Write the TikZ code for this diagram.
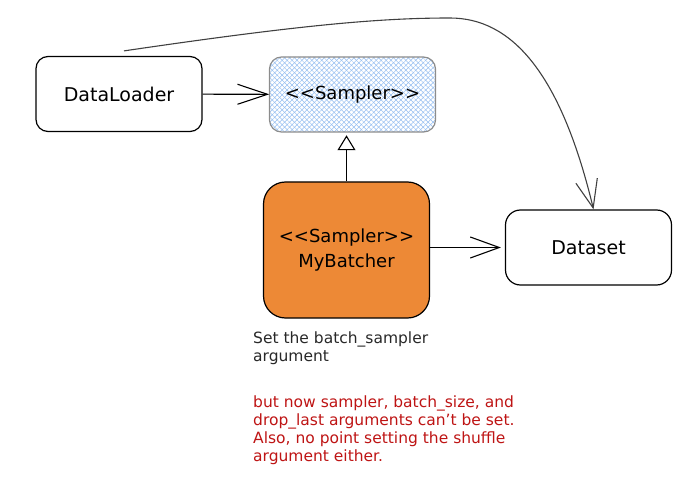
\documentclass[tikz,border=0pt]{standalone}
\usepackage{fontspec}
\setmainfont{DejaVu Sans}
\usetikzlibrary{calc}
\usetikzlibrary{positioning}
\usetikzlibrary{arrows.meta}
\usetikzlibrary{patterns.meta}
\definecolor{batcherOrange}{RGB}{237,137,54}
\definecolor{hatchBlue}{RGB}{150,190,240}
\definecolor{noteRed}{RGB}{190,20,20}
\definecolor{noteGray}{RGB}{40,40,40}
\newcommand{\edgeColor}{black}
\newcommand{\curveColor}{black!75}
\tikzset{box/.style = {draw=\edgeColor, line width=1.2pt, rounded corners=12pt, minimum width=166pt, minimum height=75pt, align=center, font=\fontsize{19}{25}\selectfont}}
\tikzset{hatch/.style = {draw=black!45, preaction={pattern={Lines[angle=45,distance=3.5pt,line width=0.5pt]}, pattern color=hatchBlue}, pattern={Lines[angle=-45,distance=3.5pt,line width=0.5pt]}, pattern color=hatchBlue}}
\tikzset{link/.style = {\edgeColor, line width=1.1pt}}
\tikzset{note/.style = {anchor=north west, align=left, inner sep=0pt, font=\fontsize{15.5}{17.8}\selectfont}}

\begin{document}
\begin{tikzpicture}[x=1pt, y=-1pt]
    \useasboundingbox (0,0) rectangle (700,486);

    \node[box] (loader) at (119,94) {DataLoader};
    \node[box, hatch, font=\fontsize{18}{25}\selectfont] (sampler) at (352.5,94.5) {<{}<Sampler>{}>};
    \node[box, fill=batcherOrange, minimum height=136pt, rounded corners=22pt, font=\fontsize{18}{25}\selectfont] (batcher) at (346.5,250) {<{}<Sampler>{}>\\MyBatcher};
    \node[box, rounded corners=15pt] (dataset) at (588.5,247.5) {Dataset};

    \draw[link, -{Straight Barb[length=30pt,width=20pt]}] (loader) -- (sampler);
    \draw[link, shorten >=3pt, -{Triangle[open,length=15pt,width=18pt]}] (batcher.north) -- (batcher.north |- sampler.south);
    \draw[link, shorten >=4pt, -{Straight Barb[length=29pt,width=21pt]}] (batcher.east |- dataset.west) -- (dataset.west);
    % the long arc passes over the sampler
    \draw[link, \curveColor, -{Straight Barb[length=28pt,width=22pt]}] ([shift={(5,-5)}]loader.north) .. controls (300,25) and (380,18) .. (450,18) .. controls (510,18) and (560,70) .. ([xshift=5pt]dataset.north);

    \node[note, text=noteGray] (hint) at (253,332) {Set the batch\_sampler\\argument};
    \node[note, text=noteRed] (warning) at (253,396) {but now sampler, batch\_size, and\\drop\_last arguments can't be set.\\Also, no point setting the shuffle\\argument either.};
\end{tikzpicture}
\end{document}
